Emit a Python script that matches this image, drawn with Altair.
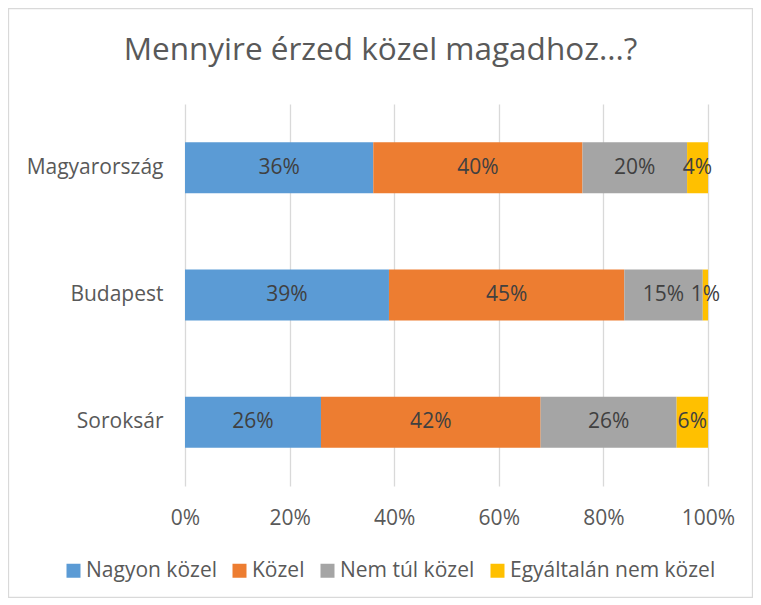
import altair as alt
import pandas as pd

regions = ["Magyarország", "Budapest", "Soroksár"]
categories = ["Nagyon közel", "Közel", "Nem túl közel", "Egyáltalán nem közel"]
colors = ["#5B9BD5", "#ED7D31", "#A5A5A5", "#FFC000"]
magyarorszag = [36, 40, 20, 4]
budapest = [39, 45, 15, 1]
soroksar = [26, 42, 26, 6]
x_ticks = [0, 0.2, 0.4, 0.6, 0.8, 1.0]

rows = []
for reg, vals in zip(regions, [magyarorszag, budapest, soroksar]):
    for i, (cat, v) in enumerate(zip(categories, vals)):
        rows.append({"region": reg, "cat": cat, "order": i, "value": v})
df = pd.DataFrame(rows)

FONT = "Open Sans"
TXT = "#595959"

base = alt.Chart(df).transform_stack(
    stack="value", groupby=["region"], as_=["v0", "v1"],
    sort=[alt.SortField("order")], offset="normalize"
).transform_calculate(
    mid="(datum.v0 + datum.v1) / 2", label="datum.value + '%'"
)

yenc = alt.Y("region:N", sort=regions, title=None,
             scale=alt.Scale(paddingInner=0.6, paddingOuter=0.3),
             axis=alt.Axis(domain=False, ticks=False, labelPadding=22,
                           labelFontSize=21, labelColor=TXT, labelFont=FONT, grid=False))

bars = base.mark_bar().encode(
    y=yenc,
    x=alt.X("v0:Q", title=None, scale=alt.Scale(domain=[0, 1], nice=False),
            axis=alt.Axis(format="%", values=x_ticks, domain=False, ticks=False,
                          labelPadding=21, labelFontSize=21, labelColor=TXT, labelFont=FONT,
                          labelFlush=False, labelOverlap=False,
                          grid=True, gridColor="#D9D9D9", gridWidth=1.3)),
    x2="v1:Q",
    color=alt.Color("cat:N", scale=alt.Scale(domain=categories, range=colors),
                    legend=alt.Legend(title=None, orient="none", legendX=-122, legendY=456,
                                      direction="horizontal", symbolType="square",
                                      symbolSize=196, symbolStrokeWidth=0,
                                      labelFontSize=21, labelColor=TXT, labelFont=FONT,
                                      labelLimit=400, columnPadding=12, labelOffset=2)),
    order=alt.Order("order:Q"),
)

text = base.mark_text(fontSize=21, font=FONT, color="#404040").encode(
    y=alt.Y("region:N", sort=regions),
    x=alt.X("mid:Q"),
    text="label:N",
)

frame = alt.Chart(pd.DataFrame({"a": [0]})).mark_rect(
    fill="transparent", stroke="#D9D9D9", strokeWidth=1.3
).encode(
    x=alt.value(-176.5), x2=alt.value(567.5), y=alt.value(-95.5), y2=alt.value(493.5)
)

chart = alt.layer(frame, bars, text).properties(
    width=523, height=382,
    autosize="none",
    padding={"left": 177, "top": 96, "right": 45, "bottom": 112},
    title=alt.TitleParams("Mennyire érzed közel magadhoz...?", fontSize=31.5, font=FONT,
                          color=TXT, fontWeight="normal", anchor="middle", frame="group",
                          dx=-66, offset=-59),
).configure_view(stroke=None)

chart.save("out.html", embed_options={"renderer": "svg", "actions": False})
